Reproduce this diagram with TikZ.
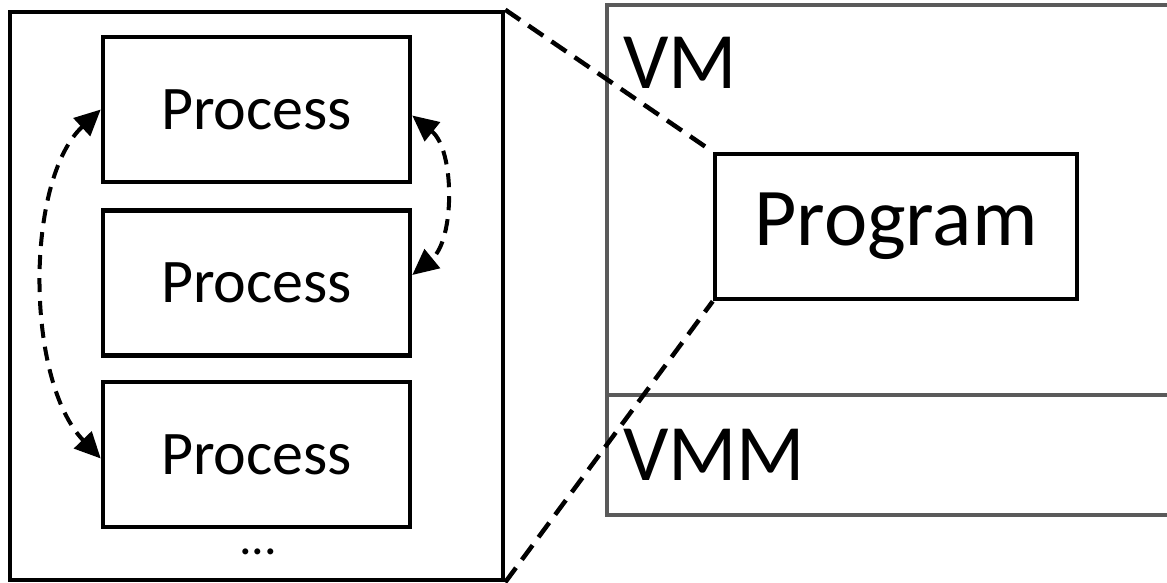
\documentclass[tikz,border=0pt]{standalone}
\usepackage{fontspec}
\setmainfont{Carlito}
\usetikzlibrary{arrows.meta}
\definecolor{vmgray}{RGB}{90,90,90}
\begin{document}
\begin{tikzpicture}[x=1pt,y=-1pt,
  box/.style={draw, line width=4.5pt, rectangle, inner sep=0pt},
  procbox/.style={box, minimum width=307pt, minimum height=145pt, font=\fontsize{62}{70}\selectfont},
  zoomline/.style={line width=4.5pt, dash pattern=on 18pt off 10pt},
  biarrow/.style={line width=4pt, dash pattern=on 14pt off 9pt, {Triangle[length=26pt,width=24pt]}-{Triangle[length=26pt,width=24pt]}},
  layerlabel/.style={anchor=base west, inner sep=0pt, font=\fontsize{80}{90}\selectfont}]
\useasboundingbox (0,0) rectangle (1167,582);
% host with its processes
\node[box, minimum width=493pt, minimum height=568pt] (host) at (256.5,296){};
\node[procbox] (p1) at (256.5,109.5){Process};
\node[procbox] (p2) at (256.5,283){Process};
\node[procbox] (p3) at (256.5,454.5){Process};
\node[inner sep=0pt, font=\fontsize{50}{60}\selectfont] (dots) at (258,552){...};
\draw[biarrow] (p1.west) .. controls (25,180) and (25,380) .. ([yshift=-4pt]p3.west);
\draw[biarrow] ([yshift=-6pt]p1.east) .. controls (455,150) and (455,240) .. ([yshift=8pt]p2.east);
% VM and VMM layers
\draw[vmgray, line width=3.5pt] (1175,5) -- (607,5) -- (607,515) -- (1175,515);
\draw[vmgray, line width=3.5pt] (607,395) -- (1175,395);
\node[layerlabel] (vm) at (623,88){VM};
\node[layerlabel] (vmm) at (623,480){VMM};
\node[box, minimum width=362pt, minimum height=145pt, font=\fontsize{82}{90}\selectfont] (prog) at (896,226.5){Program};
% zoom lines
\draw[zoomline] (host.north east) -- (prog.north west);
\draw[zoomline] (host.south east) -- (prog.south west);
\end{tikzpicture}
\end{document}
